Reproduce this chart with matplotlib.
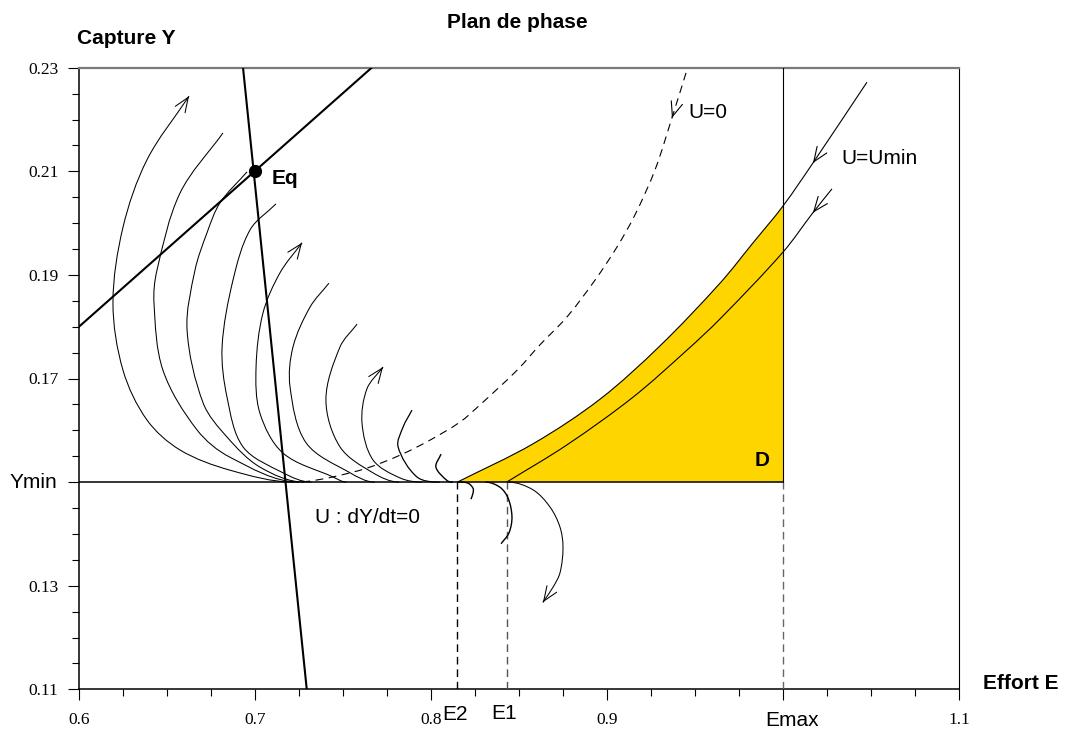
import numpy as np
import matplotlib
matplotlib.use("Agg")
import matplotlib.pyplot as plt
from matplotlib.path import Path
from matplotlib.patches import PathPatch
from matplotlib.ticker import MultipleLocator

plt.rcParams["font.family"] = ["Liberation Sans", "DejaVu Sans"]

# ---- axes and reference levels ----
E_LIM = (0.6, 1.1)
Y_LIM = (0.11, 0.23)
YMIN = 0.15
E2, E1, EMAX = 0.815, 0.843, 1.0
EQ_E, EQ_Y = 0.70, 0.21

x_ticks = [0.6, 0.7, 0.8, 0.9, 1.0, 1.1]
x_tick_labels = ["0.6", "0.7", "0.8", "0.9", "", "1.1"]
y_ticks = [0.11, 0.13, 0.15, 0.17, 0.19, 0.21, 0.23]
y_tick_labels = ["0.11", "0.13", "", "0.17", "0.19", "0.21", "0.23"]

# ---- isoclines (straight lines) ----
iso_dY_E = [0.6932, 0.7294]
iso_dY_Y = [0.23, 0.11]
iso_dE_E = [0.6, 0.7663]
iso_dE_Y = [0.18, 0.23]

# ---- trajectories: each starts on Y = Ymin and runs to its free end ----
t1_E = [0.722, 0.6858, 0.6574, 0.6386, 0.6250, 0.6193, 0.6250, 0.6386, 0.6625]
t1_Y = [0.150, 0.1523, 0.1562, 0.1620, 0.1716, 0.1846, 0.1992, 0.2122, 0.2245]
t2_E = [0.725, 0.6858, 0.6670, 0.6477, 0.6426, 0.6443, 0.6574, 0.6818]
t2_Y = [0.150, 0.1548, 0.1601, 0.1716, 0.1846, 0.1909, 0.2058, 0.2174]
t3_E = [0.728, 0.7028, 0.6841, 0.6705, 0.6614, 0.6659, 0.6727, 0.6801, 0.6955]
t3_Y = [0.150, 0.1529, 0.1587, 0.1653, 0.1794, 0.1909, 0.1981, 0.2039, 0.2099]
t4_E = [0.732, 0.7159, 0.6932, 0.6841, 0.6813, 0.6875, 0.6972, 0.7119]
t4_Y = [0.150, 0.1518, 0.1568, 0.1664, 0.1761, 0.1890, 0.1987, 0.2037]
t5_E = [0.752, 0.7443, 0.7159, 0.7028, 0.7006, 0.7045, 0.7142, 0.7267]
t5_Y = [0.150, 0.1510, 0.1556, 0.1633, 0.1722, 0.1826, 0.1904, 0.1962]
t6_E = [0.768, 0.7540, 0.7290, 0.7199, 0.7216, 0.7313, 0.7420]
t6_Y = [0.150, 0.1518, 0.1576, 0.1684, 0.1761, 0.1838, 0.1884]
t7_E = [0.782, 0.7670, 0.7483, 0.7403, 0.7483, 0.7580]
t7_Y = [0.150, 0.1518, 0.1568, 0.1659, 0.1761, 0.1805]
t8_E = [0.795, 0.7824, 0.7670, 0.7608, 0.7636, 0.7727]
t8_Y = [0.150, 0.1508, 0.1543, 0.1614, 0.1680, 0.1722]
t9_E = [0.805, 0.7920, 0.7813, 0.7841, 0.7892]
t9_Y = [0.150, 0.1510, 0.1568, 0.1606, 0.1639]
t10_E = [0.8125, 0.8091, 0.8028, 0.8057]
t10_Y = [0.150, 0.1503, 0.1529, 0.1554]
t11_E = [0.815, 0.8210, 0.8239, 0.8239, 0.8227]
t11_Y = [0.150, 0.1498, 0.1488, 0.1479, 0.1467]
t12_E = [0.831, 0.8392, 0.8438, 0.8460, 0.8443, 0.8398]
t12_Y = [0.150, 0.1490, 0.1469, 0.1433, 0.1402, 0.1381]
t13_E = [0.844, 0.8580, 0.8676, 0.8733, 0.8750, 0.8733, 0.8693, 0.8636]
t13_Y = [0.150, 0.1485, 0.1452, 0.1413, 0.1374, 0.1325, 0.1297, 0.1268]

# (E, Y, arrow at free end, line width)
trajectories = [
    (t1_E, t1_Y, True, 0.75), (t2_E, t2_Y, False, 0.75), (t3_E, t3_Y, False, 0.75),
    (t4_E, t4_Y, False, 0.75), (t5_E, t5_Y, True, 0.75), (t6_E, t6_Y, False, 0.75),
    (t7_E, t7_Y, False, 0.75), (t8_E, t8_Y, True, 0.75), (t9_E, t9_Y, False, 0.9),
    (t10_E, t10_Y, False, 1.0), (t11_E, t11_Y, False, 1.0), (t12_E, t12_Y, False, 1.0),
    (t13_E, t13_Y, True, 0.75),
]

# ---- separatrices ----
u0_E = [0.9449, 0.9369, 0.9273, 0.9159, 0.9057, 0.8932, 0.8773, 0.8619, 0.8489,
        0.8278, 0.8165, 0.7994, 0.7824, 0.7636, 0.7443, 0.7313, 0.725]
u0_Y = [0.2290, 0.2203, 0.2103, 0.2016, 0.1954, 0.1890, 0.1819, 0.1765, 0.1716,
        0.1649, 0.1616, 0.1581, 0.1552, 0.1527, 0.1510, 0.1502, 0.150]
umin_hi_E = [0.815, 0.8580, 0.8960, 0.9301, 0.9642, 0.9830, 1.0, 1.0170, 1.0477]
umin_hi_Y = [0.150, 0.1574, 0.1660, 0.1763, 0.1884, 0.1962, 0.2033, 0.2116, 0.2272]
umin_lo_E = [0.843, 0.8773, 0.9148, 0.9455, 0.9642, 1.0, 1.0170, 1.0278]
umin_lo_Y = [0.150, 0.1572, 0.1664, 0.1755, 0.1815, 0.1944, 0.2020, 0.2066]


def smooth_vertices(ax, E, Y, flat_start=False):
    """Chord-length Hermite spline through the points, as cubic Bezier vertices
    (tangents are taken in screen space, result is returned in data space)."""
    P = ax.transData.transform(np.column_stack([E, Y]).astype(float))
    n = len(P)
    d = np.hypot(*np.diff(P, axis=0).T)
    T = np.zeros_like(P)
    for i in range(n):
        if i == 0:
            if flat_start:
                T[0] = [np.sign(P[1, 0] - P[0, 0]), 0.0]
            else:
                T[0] = (P[1] - P[0]) / d[0]
        elif i == n - 1:
            T[i] = (P[i] - P[i - 1]) / d[i - 1]
        else:
            T[i] = (P[i + 1] - P[i - 1]) / (d[i - 1] + d[i])
    verts = [P[0]]
    for i in range(n - 1):
        verts += [P[i] + T[i] * d[i] / 3.0, P[i + 1] - T[i + 1] * d[i] / 3.0, P[i + 1]]
    return ax.transData.inverted().transform(np.array(verts))


def curve_path(verts):
    return Path(verts, [Path.MOVETO] + [Path.CURVE4] * (len(verts) - 1))


def arrow_head(ax, tip, back, lw=0.8):
    tip = np.asarray(tip, float)
    back = np.asarray(back, float)
    start = tip + 0.05 * (back - tip)
    ax.annotate("", xy=tip, xytext=start,
                arrowprops=dict(arrowstyle="->,head_length=1.05,head_width=0.42",
                                lw=lw, color="black", shrinkA=0, shrinkB=0,
                                mutation_scale=10), zorder=5)


fig = plt.figure(figsize=(10.66, 7.35), dpi=100)
ax = fig.add_axes([79 / 1066, 45.7 / 735, 880 / 1066, 621.6 / 735])
ax.set_xlim(*E_LIM)
ax.set_ylim(*Y_LIM)

# frame
for side in ("left", "bottom"):
    ax.spines[side].set_linewidth(1.1)
ax.spines["right"].set_linewidth(0.8)
ax.spines["top"].set_linewidth(1.6)
ax.spines["top"].set_color("#7a7a7a")

tick_font = dict(fontfamily="Liberation Serif", fontsize=12.5)
ax.set_xticks(x_ticks)
ax.set_xticklabels(x_tick_labels, **tick_font)
ax.set_yticks(y_ticks)
ax.set_yticklabels(y_tick_labels, **tick_font)
ax.xaxis.set_minor_locator(MultipleLocator(0.025))
ax.yaxis.set_minor_locator(MultipleLocator(0.005))
ax.tick_params(which="major", direction="out", length=7.7, width=0.8)
ax.tick_params(axis="x", which="major", pad=9)
ax.tick_params(axis="y", which="major", pad=7)
ax.tick_params(which="minor", direction="out", length=5, width=0.8)
ax.tick_params(top=False, right=False)

# admissible domain D
hi_v = smooth_vertices(ax, umin_hi_E, umin_hi_Y)
n_seg = umin_hi_E.index(EMAX)
fill_v = list(hi_v[: 1 + 3 * n_seg]) + [(EMAX, YMIN), (umin_hi_E[0], YMIN), (umin_hi_E[0], YMIN)]
fill_c = [Path.MOVETO] + [Path.CURVE4] * (3 * n_seg) + [Path.LINETO, Path.LINETO, Path.CLOSEPOLY]
ax.add_patch(PathPatch(Path(fill_v, fill_c), facecolor="#FFD500", edgecolor="none", zorder=1))

# Emax, E1, E2 verticals
dash = (5.5, 3.5)
ax.plot([EMAX, EMAX], [YMIN, Y_LIM[1]], color="black", lw=0.8, zorder=3)
ax.plot([EMAX, EMAX], [Y_LIM[0], YMIN], color="#666666", lw=1.0, dashes=dash, zorder=3)
ax.plot([E1, E1], [Y_LIM[0], YMIN], color="#555555", lw=1.0, dashes=dash, zorder=3)
ax.plot([E2, E2], [Y_LIM[0], YMIN], color="black", lw=1.0, dashes=dash, zorder=3)

# trajectories
for E, Y, has_arrow, lw in trajectories:
    v = smooth_vertices(ax, E, Y, flat_start=True)
    ax.add_patch(PathPatch(curve_path(v), fill=False, edgecolor="black", lw=lw, zorder=3))
    if has_arrow:
        arrow_head(ax, v[-1], v[-2], lw=lw)

# separatrices
u0_v = smooth_vertices(ax, u0_E, u0_Y)
ax.add_patch(PathPatch(curve_path(u0_v), fill=False, edgecolor="black",
                       lw=0.8, linestyle=(0, (7, 5)), zorder=3))
arrow_head(ax, u0_v[3], u0_v[2])
ax.add_patch(PathPatch(curve_path(hi_v), fill=False, edgecolor="black", lw=0.8, zorder=3))
arrow_head(ax, hi_v[3 * 7], hi_v[3 * 7 + 1])
lo_v = smooth_vertices(ax, umin_lo_E, umin_lo_Y)
ax.add_patch(PathPatch(curve_path(lo_v), fill=False, edgecolor="black", lw=0.8, zorder=3))
arrow_head(ax, lo_v[3 * 6], lo_v[3 * 6 + 1])

# Ymin level
ax.plot([E_LIM[0], EMAX], [YMIN, YMIN], color="black", lw=1.1, zorder=4)

# isoclines and equilibrium
ax.plot(iso_dY_E, iso_dY_Y, color="black", lw=1.5, zorder=4)
ax.plot(iso_dE_E, iso_dE_Y, color="black", lw=1.5, zorder=4)
ax.plot([EQ_E], [EQ_Y], "o", color="black", ms=8.5, zorder=6)

# labels
lab = dict(fontsize=15, color="black")
ax.text(0.7097, 0.2087, "Eq", fontweight="bold", va="center", ha="left", **lab)
ax.text(0.9880, 0.1541, "D", fontweight="bold", va="center", ha="center", **lab)
ax.text(0.9460, 0.2214, "U=0", va="center", ha="left", **lab)
ax.text(1.0330, 0.2124, "U=Umin", va="center", ha="left", **lab)
ax.text(0.7341, 0.1431, "U : dY/dt=0", va="center", ha="left", **lab)
ax.text(0.8136, 0.1052, "E2", va="center", ha="center", clip_on=False, **lab)
ax.text(0.8415, 0.1054, "E1", va="center", ha="center", clip_on=False, **lab)
ax.text(1.0051, 0.1039, "Emax", va="center", ha="center", clip_on=False, **lab)
ax.text(0.5875, YMIN, "Ymin", va="center", ha="right", clip_on=False, **lab)

fig.text(517 / 1066, 1 - 22 / 735, "Plan de phase", fontsize=15, fontweight="bold",
         ha="center", va="center")
fig.text(76.6 / 1066, 1 - 39 / 735, "Capture Y", fontsize=15, fontweight="bold",
         ha="left", va="center")
fig.text(983 / 1066, 1 - 683.5 / 735, "Effort E", fontsize=15, fontweight="bold",
         ha="left", va="center")

fig.savefig("out.png", dpi=100)
